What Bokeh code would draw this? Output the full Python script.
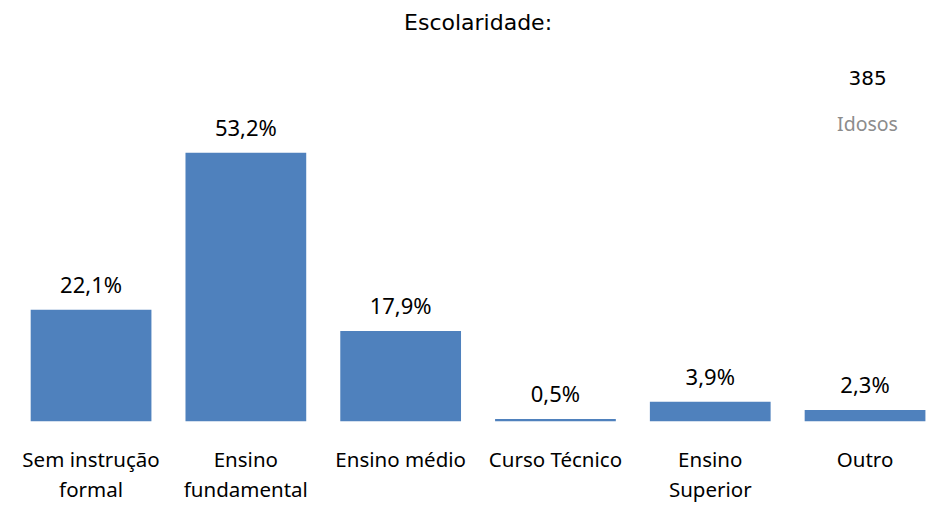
from bokeh.plotting import figure
from bokeh.models import Range1d, Label, ColumnDataSource, FixedTicker
from bokeh.core.properties import value
from bokeh.embed import file_html
from bokeh.resources import INLINE

categories = ["Sem instrução\nformal", "Ensino\nfundamental", "Ensino médio",
              "Curso Técnico", "Ensino\nSuperior", "Outro"]
values = [22.1, 53.2, 17.9, 0.5, 3.9, 2.3]
value_labels = ["22,1%", "53,2%", "17,9%", "0,5%", "3,9%", "2,3%"]
title_text = "Escolaridade:"
total_text = "385"
group_text = "Idosos"

xs = list(range(len(categories)))
src = ColumnDataSource(dict(x=xs, top=values, lab=value_labels))

p = figure(width=926, height=506, output_backend="svg", toolbar_location=None,
           x_range=Range1d(-0.585, 5.397), y_range=Range1d(0, 83.33),
           min_border_left=0, min_border_right=0, min_border_top=0, min_border_bottom=84)
p.outline_line_color = None
p.grid.visible = False
p.yaxis.visible = False

p.vbar(x="x", top="top", width=0.78, bottom=0, source=src, color="#4F81BD", line_color=None)
p.text(x="x", y="top", text="lab", source=src, text_align="center", text_baseline="middle",
       y_offset=-26, text_font_size="22px", text_color="#000000", text_font=value("Noto Sans"))

ax = p.xaxis[0]
ax.ticker = FixedTicker(ticks=xs)
ax.major_label_overrides = {i: c for i, c in enumerate(categories)}
ax.axis_line_color = None
ax.major_tick_line_color = None
ax.minor_tick_line_color = None
ax.major_label_text_font = "Noto Sans"
ax.major_label_text_font_size = "20.5px"
ax.major_label_text_color = "#000000"
ax.major_label_text_line_height = 1.09
ax.major_label_standoff = 17

p.add_layout(Label(x=2.5, y=79.0, text=title_text, text_align="center", text_baseline="middle",
                   text_font="DejaVu Sans", text_font_size="22px", text_color="#000000"))
p.add_layout(Label(x=5.016, y=67.9, text=total_text, text_align="center", text_baseline="middle",
                   text_font="DejaVu Sans", text_font_size="20px", text_color="#000000"))
p.add_layout(Label(x=5.016, y=58.9, text=group_text, text_align="center", text_baseline="middle",
                   text_font="Noto Sans", text_font_size="19.5px", text_color="#8C8C8C"))

open("out.html", "w").write(file_html(p, INLINE))
